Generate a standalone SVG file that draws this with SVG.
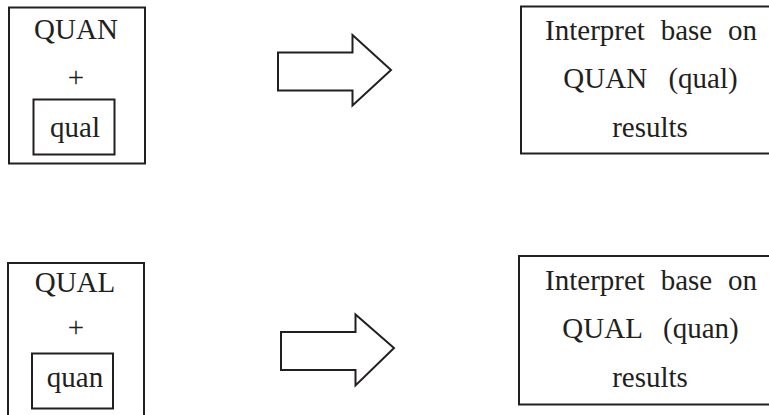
<svg xmlns="http://www.w3.org/2000/svg" width="769" height="415" viewBox="0 0 769 415">
<style>
  .box { fill: #ffffff; stroke: #231f20; stroke-width: 2; }
  .inner { fill: none; stroke: #231f20; stroke-width: 2; }
  .arrow { fill: #ffffff; stroke: #231f20; stroke-width: 2; stroke-linejoin: miter; }
  .t { font-family: "Liberation Serif", "Times New Roman", serif; font-size: 29px; fill: #231f20; text-anchor: middle; }
</style>
<rect x="0" y="0" width="769" height="415" fill="#ffffff"/>

<g id="quan-qual">
  <rect class="box" x="9" y="7.5" width="136" height="156"/>
  <text class="t" x="76" y="39">QUAN</text>
  <text class="t" x="76" y="87">+</text>
  <rect class="inner" x="33.5" y="99.5" width="81" height="55"/>
  <text class="t" x="75" y="137">qual</text>
</g>

<g id="qual-quan">
  <rect class="box" x="8" y="263" width="136" height="170"/>
  <text class="t" x="75" y="291.5">QUAL</text>
  <text class="t" x="76" y="336.5">+</text>
  <rect class="inner" x="32" y="353.5" width="81" height="55"/>
  <text class="t" x="75" y="386.5">quan</text>
</g>

<g id="interpret-quan">
  <rect class="box" x="521" y="6.5" width="260" height="147"/>
  <text class="t" x="651" y="40" word-spacing="8.5">Interpret base on</text>
  <text class="t" x="650.5" y="88" word-spacing="14">QUAN (qual)</text>
  <text class="t" x="650" y="136.5">results</text>
</g>

<g id="interpret-qual">
  <rect class="box" x="519" y="256" width="262" height="148.5"/>
  <text class="t" x="651" y="290" word-spacing="8.5">Interpret base on</text>
  <text class="t" x="650.5" y="338" word-spacing="14">QUAL (quan)</text>
  <text class="t" x="650" y="386.5">results</text>
</g>

<g id="connectors">
  <polygon class="arrow" points="278,52.5 352.5,52.5 352.5,35 391,70 352.5,105.5 352.5,90.5 278,90.5"/>
  <polygon class="arrow" points="281,332 355.5,332 355.5,314.5 394,348 355.5,385.5 355.5,370 281,370"/>
</g>
</svg>
